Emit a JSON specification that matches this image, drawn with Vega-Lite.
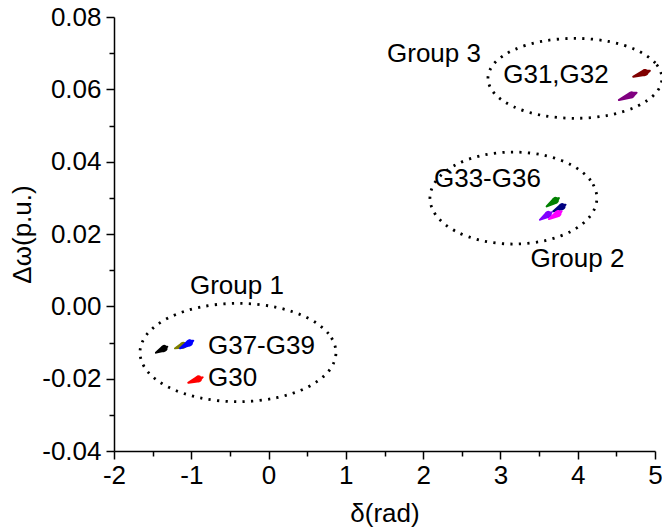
{
  "$schema": "https://vega.github.io/schema/vega-lite/v6.json",
  "width": 541,
  "height": 434,
  "autosize": {"type": "none"},
  "padding": {"left": 114, "top": 17, "right": 7, "bottom": 81},
  "background": "white",
  "config": {
    "view": {"stroke": null},
    "font": "Liberation Sans",
    "axis": {
      "domainColor": "black", "domainWidth": 1.5, "tickColor": "black", "tickWidth": 1.5,
      "labelColor": "black", "titleColor": "black", "labelFont": "Liberation Sans", "titleFont": "Liberation Sans",
      "labelFontSize": 26, "titleFontSize": 26, "titleFontWeight": "normal", "grid": false
    }
  },
  "datasets": {
    "ellipses": [
      {"g": "Group 1", "k": 0, "x": 0.872, "y": -0.01277},
      {"g": "Group 1", "k": 1, "x": 0.7755, "y": -0.00757},
      {"g": "Group 1", "k": 2, "x": 0.5006, "y": -0.00315},
      {"g": "Group 1", "k": 3, "x": 0.0893, "y": -0.00021},
      {"g": "Group 1", "k": 4, "x": -0.396, "y": 0.00083},
      {"g": "Group 1", "k": 5, "x": -0.8813, "y": -0.00021},
      {"g": "Group 1", "k": 6, "x": -1.2926, "y": -0.00315},
      {"g": "Group 1", "k": 7, "x": -1.5675, "y": -0.00757},
      {"g": "Group 1", "k": 8, "x": -1.664, "y": -0.01277},
      {"g": "Group 1", "k": 9, "x": -1.5675, "y": -0.01797},
      {"g": "Group 1", "k": 10, "x": -1.2926, "y": -0.02239},
      {"g": "Group 1", "k": 11, "x": -0.8813, "y": -0.02533},
      {"g": "Group 1", "k": 12, "x": -0.396, "y": -0.02637},
      {"g": "Group 1", "k": 13, "x": 0.0893, "y": -0.02533},
      {"g": "Group 1", "k": 14, "x": 0.5006, "y": -0.02239},
      {"g": "Group 1", "k": 15, "x": 0.7755, "y": -0.01797},
      {"g": "Group 2", "k": 0, "x": 4.248, "y": 0.02994},
      {"g": "Group 2", "k": 1, "x": 4.1658, "y": 0.03481},
      {"g": "Group 2", "k": 2, "x": 3.9317, "y": 0.03893},
      {"g": "Group 2", "k": 3, "x": 3.5813, "y": 0.04169},
      {"g": "Group 2", "k": 4, "x": 3.168, "y": 0.04266},
      {"g": "Group 2", "k": 5, "x": 2.7547, "y": 0.04169},
      {"g": "Group 2", "k": 6, "x": 2.4043, "y": 0.03893},
      {"g": "Group 2", "k": 7, "x": 2.1702, "y": 0.03481},
      {"g": "Group 2", "k": 8, "x": 2.088, "y": 0.02994},
      {"g": "Group 2", "k": 9, "x": 2.1702, "y": 0.02507},
      {"g": "Group 2", "k": 10, "x": 2.4043, "y": 0.02095},
      {"g": "Group 2", "k": 11, "x": 2.7547, "y": 0.01819},
      {"g": "Group 2", "k": 12, "x": 3.168, "y": 0.01722},
      {"g": "Group 2", "k": 13, "x": 3.5813, "y": 0.01819},
      {"g": "Group 2", "k": 14, "x": 3.9317, "y": 0.02095},
      {"g": "Group 2", "k": 15, "x": 4.1658, "y": 0.02507},
      {"g": "Group 3", "k": 0, "x": 5.0895, "y": 0.06304},
      {"g": "Group 3", "k": 1, "x": 5.0039, "y": 0.06727},
      {"g": "Group 3", "k": 2, "x": 4.7599, "y": 0.07086},
      {"g": "Group 3", "k": 3, "x": 4.3947, "y": 0.07326},
      {"g": "Group 3", "k": 4, "x": 3.964, "y": 0.0741},
      {"g": "Group 3", "k": 5, "x": 3.5333, "y": 0.07326},
      {"g": "Group 3", "k": 6, "x": 3.1681, "y": 0.07086},
      {"g": "Group 3", "k": 7, "x": 2.9241, "y": 0.06727},
      {"g": "Group 3", "k": 8, "x": 2.8385, "y": 0.06304},
      {"g": "Group 3", "k": 9, "x": 2.9241, "y": 0.05881},
      {"g": "Group 3", "k": 10, "x": 3.1681, "y": 0.05522},
      {"g": "Group 3", "k": 11, "x": 3.5333, "y": 0.05282},
      {"g": "Group 3", "k": 12, "x": 3.964, "y": 0.05198},
      {"g": "Group 3", "k": 13, "x": 4.3947, "y": 0.05282},
      {"g": "Group 3", "k": 14, "x": 4.7599, "y": 0.05522},
      {"g": "Group 3", "k": 15, "x": 5.0039, "y": 0.05881}
    ],
    "labels": [
      {"text": "Group 1", "x": -0.409, "y": 0.0056, "kind": "group"},
      {"text": "Group 2", "x": 3.996, "y": 0.0131, "kind": "group"},
      {"text": "Group 3", "x": 2.14, "y": 0.0698, "kind": "group"},
      {"text": "G37-G39", "x": -0.784, "y": -0.011, "kind": "gen"},
      {"text": "G30", "x": -0.784, "y": -0.0198, "kind": "gen"},
      {"text": "G33-G36", "x": 2.14, "y": 0.0352, "kind": "gen"},
      {"text": "G31,G32", "x": 3.036, "y": 0.064, "kind": "gen"}
    ],
    "traj": [
      {"gen": "black", "t": 0, "x": -1.457, "y": -0.01283},
      {"gen": "black", "t": 1, "x": -1.354, "y": -0.01166},
      {"gen": "black", "t": 2, "x": -1.31, "y": -0.01117},
      {"gen": "olive", "t": 0, "x": -1.211, "y": -0.01161},
      {"gen": "olive", "t": 1, "x": -1.105, "y": -0.01078},
      {"gen": "olive", "t": 2, "x": -1.059, "y": -0.01042},
      {"gen": "blue", "t": 0, "x": -1.146, "y": -0.01161},
      {"gen": "blue", "t": 1, "x": -1.026, "y": -0.01014},
      {"gen": "blue", "t": 2, "x": -0.974, "y": -0.00951},
      {"gen": "red", "t": 0, "x": -1.039, "y": -0.02112},
      {"gen": "red", "t": 1, "x": -0.909, "y": -0.02008},
      {"gen": "red", "t": 2, "x": -0.853, "y": -0.01963},
      {"gen": "green", "t": 0, "x": 3.598, "y": 0.02765},
      {"gen": "green", "t": 1, "x": 3.709, "y": 0.02925},
      {"gen": "green", "t": 2, "x": 3.757, "y": 0.02994},
      {"gen": "navy", "t": 0, "x": 3.683, "y": 0.02627},
      {"gen": "navy", "t": 1, "x": 3.795, "y": 0.02754},
      {"gen": "navy", "t": 2, "x": 3.843, "y": 0.02809},
      {"gen": "violet", "t": 0, "x": 3.511, "y": 0.02394},
      {"gen": "violet", "t": 1, "x": 3.617, "y": 0.02538},
      {"gen": "violet", "t": 2, "x": 3.662, "y": 0.02599},
      {"gen": "magenta", "t": 0, "x": 3.627, "y": 0.02414},
      {"gen": "magenta", "t": 1, "x": 3.743, "y": 0.02563},
      {"gen": "magenta", "t": 2, "x": 3.792, "y": 0.02627},
      {"gen": "darkred", "t": 0, "x": 4.718, "y": 0.06348},
      {"gen": "darkred", "t": 1, "x": 4.869, "y": 0.06464},
      {"gen": "darkred", "t": 2, "x": 4.934, "y": 0.06514},
      {"gen": "purple", "t": 0, "x": 4.533, "y": 0.05704},
      {"gen": "purple", "t": 1, "x": 4.693, "y": 0.05845},
      {"gen": "purple", "t": 2, "x": 4.762, "y": 0.05906}
    ]
  },
  "encoding": {
    "x": {
      "field": "x", "type": "quantitative",
      "scale": {"domain": [-2, 5], "nice": false, "zero": false},
      "axis": {
        "title": "δ(rad)",
        "values": [-2, -1.5, -1, -0.5, 0, 0.5, 1, 1.5, 2, 2.5, 3, 3.5, 4, 4.5, 5],
        "labelExpr": "datum.value % 1 === 0 ? (datum.value < 0 ? '-' + format(-datum.value, 'd') : format(datum.value, 'd')) : ''",
        "tickSize": {"condition": {"test": "datum.value % 1 === 0", "value": 8}, "value": 5},
        "labelPadding": 3, "titlePadding": 12, "labelFlush": false, "labelOverlap": false
      }
    },
    "y": {
      "field": "y", "type": "quantitative",
      "scale": {"domain": [-0.04, 0.08], "nice": false, "zero": false},
      "axis": {
        "title": "Δω(p.u.)",
        "values": [-0.04, -0.03, -0.02, -0.01, 0, 0.01, 0.02, 0.03, 0.04, 0.05, 0.06, 0.07, 0.08],
        "labelExpr": "abs(datum.value * 50 - round(datum.value * 50)) < 0.000001 ? (datum.value < -0.000001 ? '-' + format(-datum.value, '.2f') : format(abs(datum.value), '.2f')) : ''",
        "tickSize": {"condition": {"test": "abs(datum.value * 50 - round(datum.value * 50)) < 0.000001", "value": 8}, "value": 5},
        "labelPadding": 5, "titlePadding": 6, "labelFlush": false, "labelOverlap": false
      }
    }
  },
  "layer": [
    {
      "data": {"name": "ellipses"},
      "mark": {"type": "line", "interpolate": "cardinal-closed", "color": "black", "strokeWidth": 2.8, "strokeDash": [2.2, 6.3], "strokeCap": "butt"},
      "encoding": {
        "detail": {"field": "g"},
        "order": {"field": "k", "type": "quantitative"}
      }
    },
    {
      "data": {"name": "labels"},
      "transform": [{"filter": "datum.kind === 'group'"}],
      "mark": {"type": "text", "fontSize": 26, "color": "black", "baseline": "middle", "align": "center", "font": "Liberation Sans"},
      "encoding": {"text": {"field": "text"}}
    },
    {
      "data": {"name": "labels"},
      "transform": [{"filter": "datum.kind === 'gen'"}],
      "mark": {"type": "text", "fontSize": 26, "color": "black", "baseline": "middle", "align": "left", "font": "Liberation Sans"},
      "encoding": {"text": {"field": "text"}}
    },
    {
      "data": {"name": "traj"},
      "mark": {"type": "trail"},
      "encoding": {
        "detail": {"field": "gen"},
        "order": {"field": "t", "type": "quantitative"},
        "size": {"field": "t", "type": "quantitative", "scale": {"domain": [0, 1, 2], "range": [2, 7, 2]}, "legend": null},
        "color": {
          "field": "gen", "type": "nominal", "legend": null,
          "scale": {
            "domain": ["black", "olive", "blue", "red", "green", "navy", "violet", "magenta", "darkred", "purple"],
            "range": ["#000000", "#808000", "#0000ff", "#ff0000", "#008000", "#000080", "#8000ff", "#ff00ff", "#800000", "#800080"]
          }
        }
      }
    }
  ]
}
